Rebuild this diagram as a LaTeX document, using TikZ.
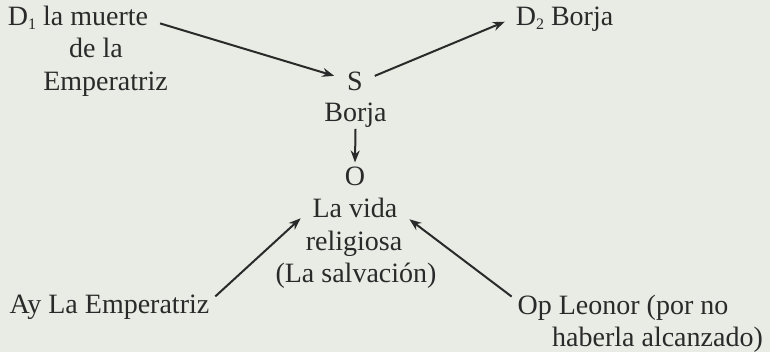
\documentclass[tikz,border=0pt]{standalone}
\usepackage{fontspec}
\setmainfont{Liberation Serif}
\usepackage{tikz}
\usetikzlibrary{arrows.meta}
\definecolor{paper}{HTML}{E9ECE4}
\definecolor{ink}{HTML}{2A2A2A}
\newcommand{\lowidx}[1]{\raisebox{-0.25ex}{\fontsize{8pt}{8pt}\selectfont #1}}

\begin{document}
\begin{tikzpicture}[x=0.5pt,y=-0.5pt]
    \tikzstyle{every path}=[line width=1pt]
    \tikzstyle{word}=[inner sep=0pt,anchor=base,text=ink,
        font=\fontsize{14pt}{16pt}\selectfont]
    \tikzstyle{actant}=[draw=ink,-{Stealth[length=6pt,width=4.5pt]}]

    %% Paper
    \fill[paper] (0,0) rectangle (770,352);

    %% Destinador
    \node[word] (d1) at (78,26) {D\lowidx{1} la muerte};
    \node[word] (d1de) at (96,58) {de la};
    \node[word] (d1emp) at (105.5,91) {Emperatriz};

    %% Sujeto and Destinatario
    \node[word] (s) at (355,91) {S};
    \node[word] (borja) at (355.5,122) {Borja};
    \node[word] (d2) at (564.5,26) {D\lowidx{2} Borja};

    %% Objeto
    \node[word] (o) at (355,186) {O};
    \node[word] (vida) at (355,218) {La vida};
    \node[word] (relig) at (354,250) {religiosa};
    \node[word] (salv) at (356,282) {(La salvación)};

    %% Ayudante and Oponente
    \node[word] (ay) at (109.5,313) {Ay La Emperatriz};
    \node[word] (op) at (623,314) {Op Leonor (por no};
    \node[word] (op2) at (657.5,346) {haberla alcanzado)};

    %% Arrows
    \draw[actant] ([xshift=5.5pt,yshift=-1pt]d1.mid east) -- ([xshift=-6pt,yshift=3pt]s.west);
    \draw[actant] ([xshift=5.5pt,yshift=3pt]s.east) -- ([xshift=-5pt,yshift=-1pt]d2.west);
    \draw[actant] (borja.south) -- ([yshift=2pt]o.north);
    \draw[actant] ([xshift=2.5pt,yshift=-1.5pt]ay.north east) -- ([xshift=-5.5pt,yshift=0.5pt]vida.south west);
    \draw[actant] ([xshift=-2.5pt,yshift=-1.5pt]op.north west) -- ([xshift=5.5pt]vida.south east);
\end{tikzpicture}
\end{document}
